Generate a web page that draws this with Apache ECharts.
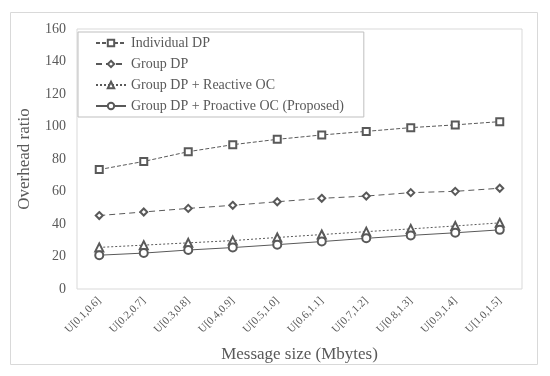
<!DOCTYPE html>
<html>
<head>
<meta charset="utf-8">
<script src="https://cdn.jsdelivr.net/npm/echarts@6/dist/echarts.min.js"></script>
<style>html,body{margin:0;padding:0;background:#fff}#c{width:550px;height:376px}</style>
</head>
<body>
<div id="c"></div>
<script>
var categories = ['U[0.1,0.6]','U[0.2,0.7]','U[0.3,0.8]','U[0.4,0.9]','U[0.5,1.0]','U[0.6,1.1]','U[0.7,1.2]','U[0.8,1.3]','U[0.9,1.4]','U[1.0,1.5]'];
var individualDP = [73.5, 78.5, 84.5, 88.8, 92.1, 94.8, 97.0, 99.3, 101.0, 103.0];
var groupDP = [45.2, 47.4, 49.6, 51.5, 53.7, 55.8, 57.2, 59.3, 60.1, 62.0];
var reactiveOC = [25.6, 27.0, 28.4, 29.8, 31.7, 33.5, 35.3, 37.0, 38.8, 40.7];
var proactiveOC = [20.8, 22.1, 24.0, 25.5, 27.3, 29.2, 31.2, 33.0, 34.6, 36.4];
var seriesNames = ['Individual DP', 'Group DP', 'Group DP + Reactive OC', 'Group DP + Proactive OC (Proposed)'];
var yTicks = [0, 20, 40, 60, 80, 100, 120, 140, 160];

var gray = '#595959';
var font = '"Liberation Serif", "Times New Roman", serif';
var chart = echarts.init(document.getElementById('c'));
function mk(name, data, symbol, size, dash) {
  return {
    name: name, type: 'line', data: data,
    symbol: symbol, symbolSize: size,
    lineStyle: { color: gray, width: 1, type: dash },
    itemStyle: { color: gray, borderColor: gray, borderWidth: 1 },
    emphasis: { disabled: true },
    animation: false
  };
}
chart.setOption({
  animation: false,
  textStyle: { fontFamily: font },
  graphic: [{
    type: 'rect', shape: { x: 10.5, y: 12.5, width: 527, height: 352 },
    style: { fill: 'none', stroke: '#d9d9d9', lineWidth: 1 }, z: -1
  }],
  grid: { left: 77, right: 28, top: 29, bottom: 87, show: true, borderColor: '#d9d9d9', borderWidth: 1 },
  legend: {
    orient: 'vertical', left: 78, top: 32,
    padding: [4, 20, 4, 17], itemGap: 7,
    itemWidth: 30, itemHeight: 8,
    borderColor: '#bfbfbf', borderWidth: 1, backgroundColor: '#fff',
    textStyle: { fontFamily: font, fontSize: 14, color: gray, lineHeight: 14 },
    data: seriesNames
  },
  xAxis: {
    type: 'category', data: categories, boundaryGap: true,
    axisLine: { show: false }, axisTick: { show: false },
    axisLabel: { rotate: 45, fontSize: 11, color: gray, fontFamily: font, margin: 10 },
    name: 'Message size (Mbytes)', nameLocation: 'middle', nameGap: 57,
    nameTextStyle: { fontSize: 17, color: gray, fontFamily: font }
  },
  yAxis: {
    type: 'value', min: yTicks[0], max: yTicks[yTicks.length - 1], interval: 20,
    axisLine: { show: false }, axisTick: { show: false }, splitLine: { show: false },
    axisLabel: { fontSize: 14, color: gray, fontFamily: font, margin: 11 },
    name: 'Overhead ratio', nameLocation: 'middle', nameGap: 44,
    nameTextStyle: { fontSize: 17, color: gray, fontFamily: font }
  },
  series: [
    mk(seriesNames[0], individualDP, 'emptyRect', 7, [4, 2]),
    mk(seriesNames[1], groupDP, 'emptyDiamond', 7, [6, 4]),
    mk(seriesNames[2], reactiveOC, 'emptyTriangle', 8, [2, 2]),
    mk(seriesNames[3], proactiveOC, 'emptyCircle', 8, 'solid')
  ]
});
</script>
</body>
</html>
